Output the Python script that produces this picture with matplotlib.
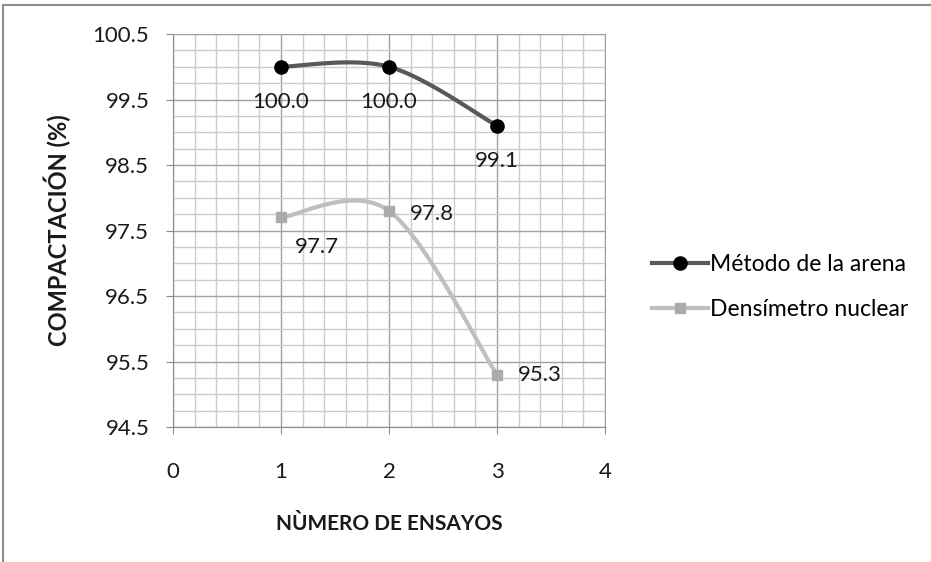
import numpy as np
import matplotlib
matplotlib.use("Agg")
import matplotlib.pyplot as plt
from matplotlib.patches import Rectangle

# Data
ensayos = [1, 2, 3]
metodo_arena = [100.0, 100.0, 99.1]
densimetro = [97.7, 97.8, 95.3]
x_ticks = [0, 1, 2, 3, 4]
y_ticks = [94.5, 95.5, 96.5, 97.5, 98.5, 99.5, 100.5]

plt.rcParams['font.family'] = ['Lato', 'DejaVu Sans']


def smooth(xs, ys, n=60):
    # Excel-like smoothed line (Catmull-Rom through bezier segments)
    p = np.column_stack([xs, ys]).astype(float)
    pts = []
    for i in range(len(p) - 1):
        p_prev = p[max(i - 1, 0)]
        p_next = p[min(i + 2, len(p) - 1)]
        c1 = p[i] + (p[i + 1] - p_prev) / 6
        c2 = p[i + 1] - (p_next - p[i]) / 6
        t = np.linspace(0, 1, n)[:, None]
        seg = ((1 - t) ** 3 * p[i] + 3 * (1 - t) ** 2 * t * c1
               + 3 * (1 - t) * t ** 2 * c2 + t ** 3 * p[i + 1])
        pts.append(seg)
    pts = np.vstack(pts)
    return pts[:, 0], pts[:, 1]


fig = plt.figure(figsize=(9.31, 5.62), dpi=100)
fig.patches.append(Rectangle((0.003, -0.02), 1.1, 1.011, transform=fig.transFigure,
                             fill=False, edgecolor='#8c8c8c', linewidth=1.5))
ax = fig.add_axes([0.1858, 0.2402, 0.464, 0.6993])

dark = '#595959'
light = '#bfbfbf'
sq = '#ababab'

sx, sy = smooth(ensayos, metodo_arena)
ax.plot(sx, sy, color=dark, linewidth=3, zorder=3)
ax.plot(ensayos, metodo_arena, 'o', color='black', markersize=9.5, zorder=4)
sx, sy = smooth(ensayos, densimetro)
ax.plot(sx, sy, color=light, linewidth=3, zorder=3)
ax.plot(ensayos, densimetro, 's', color=sq, markersize=7.7, zorder=4)

# legend handles
ax.plot([], [], color=dark, linewidth=3, marker='o', markerfacecolor='black',
        markeredgecolor='black', markersize=9.5, label='Método de la arena')
ax.plot([], [], color=light, linewidth=3, marker='s', markerfacecolor=sq,
        markeredgecolor=sq, markersize=7.7, label='Densímetro nuclear')

for x, y in zip(ensayos, metodo_arena):
    ax.annotate(f"{y:.1f}", (x, y), xytext=(0, -25.5), textcoords='offset points',
                ha='center', va='center', fontsize=16, color='#1a1a1a')
offsets = [(26, -21.6), (31, -2), (31, 0)]
for (x, y), off in zip(zip(ensayos, densimetro), offsets):
    ax.annotate(f"{y:.1f}", (x, y), xytext=off,
                textcoords='offset points', ha='center', va='center',
                fontsize=16, color='#1a1a1a')

ax.set_xlim(0, 4)
ax.set_ylim(94.5, 100.5)
ax.set_xticks(x_ticks)
ax.set_yticks(y_ticks)
ax.set_xticklabels([str(t) for t in x_ticks])
ax.set_yticklabels([f"{t:.1f}" for t in y_ticks])
ax.set_xticks(np.arange(0, 4.01, 0.2), minor=True)
ax.set_yticks(np.arange(94.5, 100.51, 0.25), minor=True)
ax.grid(which='minor', color='#cccccc', linewidth=1)
ax.grid(which='major', color='#a0a0a0', linewidth=1)
ax.set_axisbelow(True)
ax.tick_params(axis='both', which='major', direction='out', length=5,
               color='#8c8c8c', labelsize=16, labelcolor='#1a1a1a', pad=12)
ax.tick_params(axis='x', which='major', pad=20)
ax.tick_params(which='minor', length=0)
for side in ax.spines:
    ax.spines[side].set_color('#a0a0a0')
ax.spines['left'].set_color('#8c8c8c')
ax.spines['bottom'].set_color('#8c8c8c')

# axis titles, anchored at their centres
ax.set_ylabel('COMPACTACIÓN (%)', fontsize=17, fontweight='bold', color='#1a1a1a',
              va='center', ha='center')
ax.set_xlabel('NÙMERO DE ENSAYOS', fontsize=15, fontweight='bold', color='#1a1a1a',
              va='center', ha='center')
ax.yaxis.set_label_coords(-0.2685, 0.5)
ax.xaxis.set_label_coords(0.5, -0.247)

fig.legend(loc='center left', bbox_to_anchor=(0.7003, 0.49), frameon=False,
           fontsize=16.5, handlelength=2.45, handletextpad=0.1, labelspacing=1.05,
           borderpad=0, borderaxespad=0)

fig.savefig('out.png', dpi=100)
